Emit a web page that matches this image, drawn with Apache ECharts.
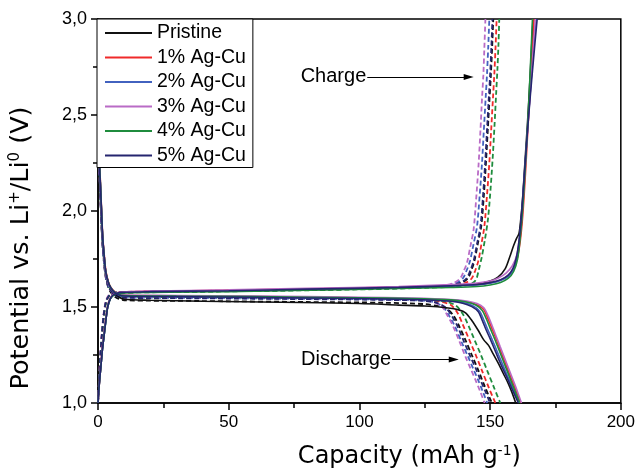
<!DOCTYPE html>
<html>
<head>
<meta charset="utf-8">
<script src="https://cdn.jsdelivr.net/npm/echarts@6/dist/echarts.min.js"></script>
<style>html,body{margin:0;padding:0;background:#fff}#c{width:638px;height:475px}</style>
</head>
<body>
<div id="c"></div>
<script>
// ---------- data ----------
const seriesNames = ['Pristine', '1% Ag-Cu', '2% Ag-Cu', '3% Ag-Cu', '4% Ag-Cu', '5% Ag-Cu'];
const xTickValues = [0, 50, 100, 150, 200];
const yTickValues = [1.0, 1.5, 2.0, 2.5, 3.0];
const yTickLabels = ['1,0', '1,5', '2,0', '2,5', '3,0'];

// solid curves: discharge
const pristineDis = [[0.3,2.30],[0.8,2.17],[1.3,2.01],[1.8,1.86],[2.4,1.76],[3.0,1.68],[4.0,1.625],[5.0,1.595],[6.5,1.57],[8,1.552],[10,1.540],[20,1.535],[40,1.530],[70,1.525],[100,1.518],[115,1.510],[125,1.505],[134,1.495],[138,1.485],[140.6,1.47],[143,1.43],[145.6,1.375],[147.5,1.33],[149.4,1.30],[151,1.26],[153.2,1.205],[155,1.155],[157,1.10],[158.5,1.05],[159.8,1.0]];
const ag1Dis = [[0.3,2.32],[0.8,2.19],[1.3,2.03],[1.8,1.87],[2.4,1.77],[3.0,1.69],[4.0,1.63],[5.0,1.60],[6.5,1.578],[8,1.566],[10,1.561],[30,1.558],[60,1.554],[100,1.548],[120,1.543],[135,1.536],[141,1.527],[145,1.512],[147.5,1.488],[149,1.445],[150.5,1.395],[152,1.345],[153.5,1.29],[155.5,1.22],[157.5,1.15],[159.5,1.08],[161.7,1.0]];
const ag2Dis = [[0.3,2.30],[0.8,2.18],[1.3,2.02],[1.8,1.86],[2.4,1.76],[3.0,1.68],[4.0,1.625],[5.0,1.598],[6.5,1.575],[8,1.563],[10,1.558],[30,1.555],[60,1.551],[100,1.545],[120,1.540],[134,1.532],[140,1.522],[143.5,1.505],[146,1.478],[147.5,1.435],[149,1.385],[150.5,1.34],[152.5,1.275],[154.5,1.21],[156.5,1.145],[158.8,1.075],[161.1,1.0]];
const ag3Dis = [[0.3,2.28],[0.8,2.16],[1.3,2.0],[1.8,1.85],[2.4,1.75],[3.0,1.67],[4.0,1.62],[5.0,1.595],[6.5,1.575],[8,1.566],[10,1.562],[30,1.560],[60,1.557],[100,1.551],[120,1.546],[135,1.539],[141,1.531],[145,1.518],[147.5,1.497],[149.2,1.455],[150.7,1.405],[152.2,1.352],[153.8,1.295],[155.8,1.225],[157.8,1.155],[159.8,1.085],[162.0,1.0]];
const ag4Dis = [[0.3,2.31],[0.8,2.18],[1.3,2.02],[1.8,1.86],[2.4,1.76],[3.0,1.68],[4.0,1.627],[5.0,1.598],[6.5,1.576],[8,1.565],[10,1.560],[30,1.557],[60,1.554],[100,1.548],[120,1.544],[135,1.537],[140.5,1.527],[144.5,1.51],[147,1.482],[148.5,1.44],[150,1.39],[151.7,1.335],[153.3,1.28],[155.3,1.21],[157.3,1.14],[159.3,1.07],[161.3,1.0]];
const ag5Dis = [[0.3,2.29],[0.8,2.17],[1.3,2.01],[1.8,1.86],[2.4,1.76],[3.0,1.68],[4.0,1.625],[5.0,1.597],[6.5,1.574],[8,1.562],[10,1.557],[30,1.554],[60,1.550],[100,1.544],[120,1.539],[134,1.531],[139.5,1.52],[143,1.502],[145.5,1.475],[147,1.43],[148.5,1.38],[150,1.335],[152,1.27],[154,1.205],[156.2,1.14],[158.5,1.07],[160.8,1.0]];

// solid curves: charge
const pristineChg = [[0,1.0],[0.5,1.1],[1.1,1.19],[1.7,1.28],[2.4,1.36],[3.0,1.43],[3.7,1.50],[4.6,1.54],[5.6,1.558],[7,1.568],[9,1.574],[20,1.578],[50,1.583],[80,1.590],[115,1.600],[135,1.610],[145,1.620],[150,1.635],[153,1.655],[155.8,1.70],[157.5,1.76],[159,1.82],[160.2,1.86],[161,1.88],[161.6,1.94],[162.4,2.06],[163.3,2.25],[164.3,2.46],[165.3,2.70],[166.4,3.0]];
const ag1Chg = [[0,1.0],[0.5,1.1],[1.1,1.2],[1.7,1.29],[2.4,1.37],[3.0,1.44],[3.7,1.505],[4.6,1.545],[5.6,1.562],[7,1.572],[9,1.578],[20,1.582],[50,1.587],[80,1.594],[115,1.604],[135,1.612],[145,1.618],[150,1.626],[154,1.64],[157,1.665],[159,1.70],[160.5,1.76],[161.5,1.84],[162.5,1.98],[163.5,2.19],[164.5,2.44],[165.6,2.70],[166.8,3.0]];
const ag2Chg = [[0,1.0],[0.5,1.1],[1.1,1.19],[1.7,1.28],[2.4,1.36],[3.0,1.43],[3.7,1.50],[4.6,1.54],[5.6,1.56],[7,1.57],[9,1.576],[20,1.580],[50,1.585],[80,1.592],[115,1.601],[135,1.609],[145,1.615],[150,1.624],[154,1.638],[157,1.66],[158.8,1.69],[160,1.74],[161,1.82],[162,1.96],[163.2,2.2],[164.5,2.46],[165.9,2.72],[167.6,3.0]];
const ag3Chg = [[0,1.0],[0.5,1.1],[1.1,1.2],[1.7,1.29],[2.4,1.37],[3.0,1.44],[3.7,1.505],[4.6,1.545],[5.6,1.562],[7,1.572],[9,1.578],[20,1.583],[50,1.589],[80,1.597],[115,1.607],[135,1.617],[145,1.625],[150,1.635],[153,1.65],[156,1.675],[158.5,1.715],[160.2,1.77],[161.3,1.86],[162.3,2.0],[163.4,2.22],[164.6,2.47],[165.9,2.72],[167.3,3.0]];
const ag4Chg = [[0,1.0],[0.5,1.1],[1.1,1.19],[1.7,1.28],[2.4,1.36],[3.0,1.43],[3.7,1.50],[4.6,1.54],[5.6,1.558],[7,1.568],[9,1.573],[20,1.576],[50,1.580],[80,1.587],[115,1.596],[135,1.602],[145,1.607],[150,1.615],[154,1.628],[157,1.65],[159,1.685],[160.5,1.75],[161.5,1.86],[162.5,2.02],[163.5,2.24],[164.5,2.48],[165.3,2.72],[166.2,3.0]];
const ag5Chg = [[0,1.0],[0.5,1.1],[1.1,1.19],[1.7,1.28],[2.4,1.36],[3.0,1.43],[3.7,1.50],[4.6,1.54],[5.6,1.56],[7,1.57],[9,1.576],[20,1.580],[50,1.585],[80,1.593],[115,1.602],[135,1.611],[145,1.617],[150,1.627],[154,1.642],[156.8,1.665],[158.7,1.70],[160,1.755],[161,1.84],[162,1.98],[163.2,2.21],[164.6,2.47],[166.2,2.73],[168,3.0]];

// dashed curves: discharge
const pristineDis2 = [[0.2,2.29],[0.7,2.14],[1.2,1.97],[1.7,1.83],[2.3,1.73],[3,1.65],[4,1.60],[5,1.575],[6.5,1.553],[8,1.542],[10,1.535],[40,1.531],[80,1.526],[110,1.522],[125,1.515],[130,1.505],[133.5,1.49],[136,1.455],[138,1.405],[140.5,1.33],[143,1.25],[145.5,1.17],[148,1.085],[150.7,1.0]];
const ag1Dis2 = [[0.2,2.3],[0.7,2.15],[1.2,1.98],[1.7,1.84],[2.3,1.74],[3,1.66],[4,1.61],[5,1.585],[6.5,1.565],[8,1.556],[10,1.552],[40,1.549],[80,1.545],[110,1.541],[124,1.537],[131,1.528],[135,1.51],[137.5,1.47],[139.5,1.41],[142,1.33],[144.5,1.25],[147,1.165],[149.5,1.08],[152.0,1.0]];
const ag2Dis2 = [[0.2,2.29],[0.7,2.14],[1.2,1.97],[1.7,1.83],[2.3,1.73],[3,1.655],[4,1.605],[5,1.582],[6.5,1.563],[8,1.554],[10,1.55],[40,1.547],[80,1.543],[110,1.539],[122,1.535],[128.5,1.525],[132,1.50],[134.5,1.45],[136.5,1.40],[139,1.32],[141.6,1.24],[143.5,1.18],[145.4,1.12],[147.2,1.06],[148.9,1.0]];
const ag3Dis2 = [[0.2,2.3],[0.7,2.15],[1.2,1.98],[1.7,1.84],[2.3,1.74],[3,1.66],[4,1.61],[5,1.585],[6.5,1.565],[8,1.555],[10,1.551],[40,1.548],[80,1.544],[110,1.54],[122,1.537],[128,1.528],[131.7,1.50],[133.5,1.46],[135.5,1.41],[138,1.33],[140.6,1.24],[142.5,1.18],[144.4,1.12],[146.2,1.06],[147.9,1.0]];
const ag4Dis2 = [[0.2,2.31],[0.7,2.16],[1.2,1.99],[1.7,1.85],[2.3,1.75],[3,1.665],[4,1.612],[5,1.587],[6.5,1.567],[8,1.558],[10,1.554],[40,1.551],[80,1.547],[110,1.543],[126,1.538],[133,1.528],[137,1.507],[139.5,1.465],[141.5,1.41],[144,1.33],[146.5,1.25],[149,1.165],[151.5,1.08],[153.9,1.0]];
const ag5Dis2 = [[0.2,2.3],[0.7,2.15],[1.2,1.98],[1.7,1.84],[2.3,1.74],[3,1.66],[4,1.607],[5,1.583],[6.5,1.563],[8,1.553],[10,1.548],[40,1.545],[80,1.541],[110,1.537],[123,1.533],[129.5,1.522],[133,1.497],[135.5,1.45],[137.5,1.40],[140,1.32],[142.5,1.24],[144.5,1.18],[146.3,1.12],[148.2,1.06],[150.0,1.0]];

// dashed curves: charge
const pristineChg2 = [[0,1.0],[0.4,1.1],[0.9,1.23],[1.5,1.35],[2.2,1.45],[3,1.52],[4,1.553],[5.5,1.568],[8,1.575],[30,1.579],[70,1.587],[110,1.597],[125,1.604],[134,1.61],[139,1.625],[141.5,1.65],[142.8,1.69],[144,1.74],[145.3,1.83],[146.6,1.92],[147.6,2.08],[148.4,2.25],[149.1,2.42],[149.8,2.59],[150.3,2.71],[150.8,2.86],[151.2,3.0]];
const ag1Chg2 = [[0,1.0],[0.4,1.11],[0.9,1.24],[1.5,1.36],[2.2,1.46],[3,1.525],[4,1.556],[5.5,1.571],[8,1.577],[30,1.581],[70,1.589],[110,1.599],[125,1.606],[135,1.612],[140.5,1.625],[143,1.65],[144.3,1.69],[145.5,1.74],[146.7,1.83],[147.8,1.92],[148.8,2.08],[149.7,2.25],[150.4,2.42],[151.1,2.59],[151.6,2.71],[152.1,2.86],[152.5,3.0]];
const ag2Chg2 = [[0,1.0],[0.4,1.11],[0.9,1.24],[1.5,1.36],[2.2,1.46],[3,1.525],[4,1.555],[5.5,1.57],[8,1.576],[30,1.58],[70,1.588],[110,1.598],[125,1.605],[133,1.611],[137,1.624],[139.6,1.65],[141,1.69],[142.3,1.74],[143.7,1.83],[145,1.92],[146,2.08],[146.9,2.25],[147.6,2.42],[148.3,2.59],[148.8,2.71],[149.3,2.86],[149.7,3.0]];
const ag3Chg2 = [[0,1.0],[0.4,1.12],[0.9,1.25],[1.5,1.37],[2.2,1.47],[3,1.53],[4,1.56],[5.5,1.572],[8,1.578],[30,1.582],[70,1.590],[110,1.600],[125,1.607],[132,1.612],[136,1.625],[138.6,1.65],[140,1.69],[141.2,1.733],[142.5,1.82],[143.7,1.905],[144.7,2.07],[145.6,2.245],[146.3,2.42],[146.9,2.586],[147.4,2.705],[147.8,2.85],[148.2,3.0]];
const ag4Chg2 = [[0,1.0],[0.4,1.1],[0.9,1.23],[1.5,1.35],[2.2,1.45],[3,1.52],[4,1.553],[5.5,1.568],[8,1.574],[30,1.578],[70,1.585],[110,1.594],[125,1.600],[135,1.605],[142,1.616],[144.5,1.64],[145.6,1.69],[146.8,1.76],[148,1.85],[149.2,1.96],[150.2,2.12],[151,2.28],[151.7,2.45],[152.3,2.61],[152.8,2.74],[153.2,2.87],[153.5,3.0]];
const ag5Chg2 = [[0,1.0],[0.4,1.11],[0.9,1.24],[1.5,1.36],[2.2,1.46],[3,1.525],[4,1.555],[5.5,1.57],[8,1.577],[30,1.581],[70,1.589],[110,1.599],[125,1.606],[134,1.612],[138.5,1.626],[141,1.65],[142.4,1.69],[143.7,1.74],[145,1.83],[146.3,1.92],[147.3,2.08],[148.1,2.25],[148.8,2.42],[149.5,2.59],[150,2.71],[150.5,2.86],[150.9,3.0]];

// annotations
const annotText = ['Charge', 'Discharge'];
const annotFrom = [[103.0, 2.698], [112.5, 1.226]];
const annotTo = [[141.8, 2.698], [136.1, 1.226]];

// ---------- styling ----------
const colors = ['#111111', '#f02a2a', '#4262bf', '#b96bc6', '#1f8c3d', '#25256f'];
const solidSets = [
  [pristineDis, pristineChg], [ag1Dis, ag1Chg], [ag2Dis, ag2Chg],
  [ag3Dis, ag3Chg], [ag4Dis, ag4Chg], [ag5Dis, ag5Chg]
];
const dashedSets = [
  [pristineDis2, pristineChg2], [ag1Dis2, ag1Chg2], [ag2Dis2, ag2Chg2],
  [ag3Dis2, ag3Chg2], [ag4Dis2, ag4Chg2], [ag5Dis2, ag5Chg2]
];
const FONT = 'Liberation Sans, Arial, Helvetica, sans-serif';
const TFONT = 'DejaVu Sans, Verdana, sans-serif';

const series = [];
solidSets.forEach((set, i) => {
  set.forEach(d => series.push({
    type: 'line', name: seriesNames[i], data: d, symbol: 'none', smooth: 0.3,
    lineStyle: { color: colors[i], width: 1.6 }, itemStyle: { color: colors[i] }, z: 3
  }));
});
dashedSets.forEach((set, i) => {
  set.forEach(d => series.push({
    type: 'line', name: seriesNames[i], data: d, symbol: 'none', smooth: 0.3,
    lineStyle: { color: colors[i], width: 1.8, type: [5, 3] }, itemStyle: { color: colors[i] }, z: 2
  }));
});
series.push({
  type: 'line', name: '__annot', data: [], symbol: 'none', silent: true,
  markLine: {
    silent: true, animation: false,
    symbol: ['none', 'triangle'], symbolSize: [6, 10],
    lineStyle: { color: '#000', width: 1, type: 'solid' },
    label: { show: true, position: 'start', formatter: '{b}', fontSize: 20, fontFamily: FONT, color: '#000', distance: 1 },
    emphasis: { disabled: true },
    data: annotText.map((t, k) => [{ name: t, coord: annotFrom[k] }, { coord: annotTo[k] }])
  }
});

const chart = echarts.init(document.getElementById('c'), null, { renderer: 'canvas' });
chart.setOption({
  animation: false,
  backgroundColor: '#fff',
  grid: { left: 97, right: 15, top: 19, bottom: 65, show: true, borderColor: '#000', borderWidth: 1.5, backgroundColor: 'transparent' },
  legend: {
    data: seriesNames, orient: 'vertical', left: 97, top: 19,
    icon: 'rect', itemWidth: 47, itemHeight: 2, itemGap: 4.5, padding: [4, 7, 2, 8],
    backgroundColor: '#fff', borderColor: '#000', borderWidth: 1,
    textStyle: { fontSize: 19.5, lineHeight: 20, fontFamily: FONT, color: '#000' },
    selectedMode: false
  },
  xAxis: {
    type: 'value', min: 0, max: 200, interval: 50,
    name: 'Capacity (mAh g{sup|-1})', nameLocation: 'middle', nameGap: 41,
    nameTextStyle: { fontSize: 24, lineHeight: 26, fontFamily: TFONT, color: '#000', padding: [0, 0, 0, 100],
      rich: { sup: { fontSize: 14, verticalAlign: 'top', lineHeight: 26, padding: [0, 0, 10, 0], fontFamily: TFONT, color: '#000' } } },
    axisLine: { show: true, lineStyle: { color: '#000', width: 1.5 } },
    axisTick: { show: true, inside: false, length: 7, lineStyle: { color: '#000', width: 1.5 } },
    minorTick: { show: true, splitNumber: 2, length: 5, lineStyle: { color: '#000', width: 1.5 } },
    splitLine: { show: false },
    axisLabel: { fontSize: 17, fontFamily: FONT, color: '#000', margin: 11,
      formatter: v => xTickValues.indexOf(v) >= 0 ? String(v) : '' }
  },
  yAxis: {
    type: 'value', min: 1, max: 3, interval: 0.5,
    name: 'Potential vs. Li{sup|+}/Li{sup|0} (V)', nameLocation: 'middle', nameGap: 64, nameRotate: 90,
    nameTextStyle: { fontSize: 25.5, lineHeight: 26, fontFamily: TFONT, color: '#000', padding: [0, 74, 0, 0],
      rich: { sup: { fontSize: 15, verticalAlign: 'top', lineHeight: 26, padding: [0, 0, 10, 0], fontFamily: TFONT, color: '#000' } } },
    axisLine: { show: true, lineStyle: { color: '#000', width: 1.5 } },
    axisTick: { show: true, inside: false, length: 7, lineStyle: { color: '#000', width: 1.5 } },
    minorTick: { show: true, splitNumber: 2, length: 5, lineStyle: { color: '#000', width: 1.5 } },
    splitLine: { show: false },
    axisLabel: { fontSize: 18, fontFamily: FONT, color: '#000', margin: 11,
      formatter: v => { const k = yTickValues.findIndex(t => Math.abs(t - v) < 1e-6); return k >= 0 ? yTickLabels[k] : ''; } }
  },
  series: series
});
</script>
</body>
</html>
